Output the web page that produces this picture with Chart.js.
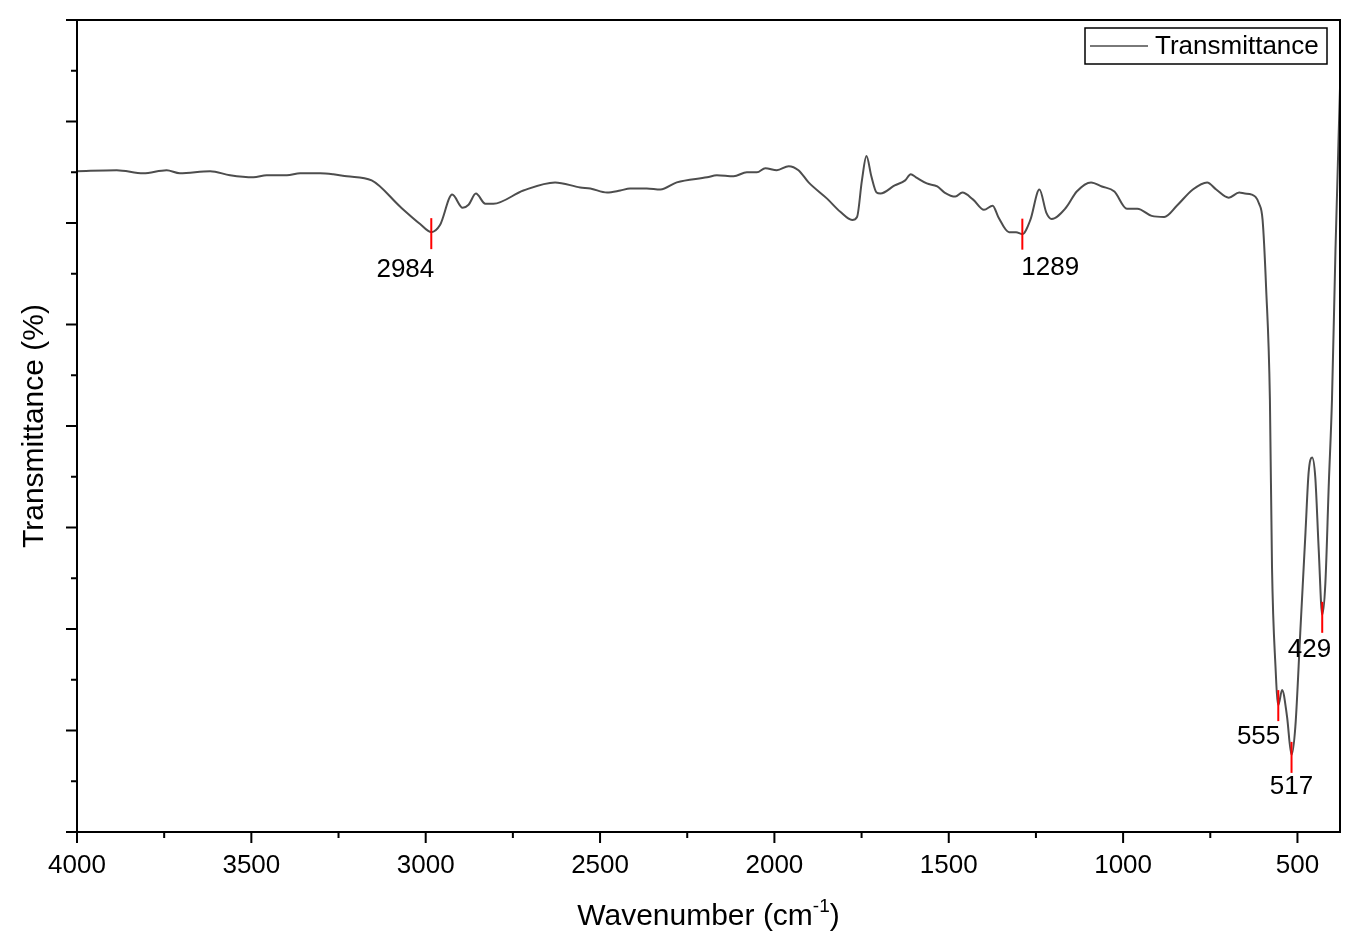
<!DOCTYPE html>
<html lang="en">
<head>
<meta charset="UTF-8">
<title>FTIR Transmittance</title>
<script src="https://cdn.jsdelivr.net/npm/chart.js"></script>
<style>
  body { margin: 0; background: #fff; }
  #wrap { width: 1360px; height: 950px; }
</style>
</head>
<body>
<div id="wrap"><canvas id="myChart"></canvas></div>
<script>
// spectrum (wavenumber in cm-1, transmittance in arbitrary %)
const wavenumbers = [4000, 3886, 3810, 3743, 3705, 3618, 3561, 3494, 3456, 3398, 3360, 3303, 3265, 3226, 3155, 3073, 3016, 2984, 2959, 2924,
  2894, 2877, 2856, 2829, 2806, 2720, 2629, 2557, 2528, 2480, 2442, 2414, 2366, 2327, 2280, 2193, 2165, 2117, 2079, 2050,
  2026, 1993, 1959, 1931, 1902, 1849, 1811, 1777, 1763, 1749, 1736, 1722, 1707, 1696, 1655, 1625, 1609, 1594, 1563, 1533,
  1512, 1481, 1461, 1430, 1399, 1374, 1358, 1327, 1307, 1289, 1266, 1240, 1220, 1205, 1164, 1133, 1092, 1061, 1025, 989,
  959, 918, 882, 846, 800, 759, 733, 697, 667, 651, 631, 610, 600, 590, 579, 573, 563, 555, 544, 530,
  517, 506, 492, 477, 468, 458, 449, 439, 429, 420, 410, 401, 391, 378];
const transmittance = [85.1, 85.2, 84.9, 85.2, 84.9, 85.1, 84.7, 84.5, 84.7, 84.7, 84.9, 84.9, 84.8, 84.6, 84.2, 81.6, 79.9, 79.1, 79.8, 82.8,
  81.5, 81.8, 82.9, 81.9, 81.9, 83.2, 84.0, 83.5, 83.4, 83.0, 83.2, 83.4, 83.4, 83.3, 84.0, 84.5, 84.7, 84.6, 85.0, 85.0,
  85.4, 85.2, 85.6, 85.2, 84.0, 82.4, 81.1, 80.3, 80.6, 84.2, 86.6, 84.6, 83.0, 82.9, 83.7, 84.2, 84.8, 84.5, 83.9, 83.6,
  83.0, 82.6, 83.0, 82.3, 81.3, 81.7, 80.6, 79.1, 79.1, 78.9, 80.3, 83.3, 81.0, 80.4, 81.5, 83.1, 84.0, 83.6, 83.1, 81.4,
  81.4, 80.7, 80.6, 81.7, 83.3, 84.0, 83.3, 82.5, 83.0, 82.9, 82.8, 81.9, 80.3, 73.7, 62.6, 46.1, 36.3, 32.5, 34.0, 31.4,
  27.6, 30.4, 39.6, 49.5, 55.4, 56.9, 55.0, 47.8, 41.4, 44.5, 54.4, 62.6, 77.3, 93.3];

const peakWavenumbers = [2984, 1289, 555, 517, 429];
const peakValues = [79.0, 78.95, 32.5, 27.4, 41.2];

const xTickValues = [4000, 3500, 3000, 2500, 2000, 1500, 1000, 500];
const yTickValues = [20, 30, 40, 50, 60, 70, 80, 90, 100];

const FONT = '"Liberation Sans", Arial, sans-serif';

// box frame with outward major + minor ticks
const frame = {
  id: 'frame',
  afterDatasetsDraw(chart) {
    const { ctx, chartArea: a, scales: { x, y } } = chart;
    ctx.save();
    ctx.strokeStyle = '#000';
    ctx.lineWidth = 2;
    ctx.strokeRect(a.left, a.top, a.right - a.left, a.bottom - a.top);
    ctx.beginPath();
    xTickValues.forEach((v, i) => {
      const px = x.getPixelForValue(v);
      ctx.moveTo(px, a.bottom); ctx.lineTo(px, a.bottom + 11);
      if (i < xTickValues.length - 1) {
        const m = x.getPixelForValue((v + xTickValues[i + 1]) / 2);
        ctx.moveTo(m, a.bottom); ctx.lineTo(m, a.bottom + 6);
      }
    });
    yTickValues.forEach((v, i) => {
      const py = y.getPixelForValue(v);
      ctx.moveTo(a.left, py); ctx.lineTo(a.left - 11, py);
      if (i < yTickValues.length - 1) {
        const m = y.getPixelForValue((v + yTickValues[i + 1]) / 2);
        ctx.moveTo(a.left, m); ctx.lineTo(a.left - 6, m);
      }
    });
    ctx.stroke();
    ctx.restore();
  }
};

// red peak markers with their wavenumber labels
const peaks = {
  id: 'peaks',
  afterDatasetsDraw(chart, args, opts) {
    const { ctx, scales: { x, y } } = chart;
    ctx.save();
    ctx.font = '26px ' + FONT;
    ctx.textBaseline = 'middle';
    peakWavenumbers.forEach((w, i) => {
      const px = x.getPixelForValue(w);
      const py = y.getPixelForValue(peakValues[i]);
      ctx.strokeStyle = '#ff0000';
      ctx.lineWidth = 2;
      ctx.beginPath();
      ctx.moveTo(px, py - 15);
      ctx.lineTo(px, py + 16);
      ctx.stroke();
      const lab = opts.labels[i];
      ctx.fillStyle = '#000';
      ctx.textAlign = lab.align;
      ctx.fillText(String(w), px + lab.dx, py + lab.dy);
    });
    ctx.restore();
  }
};

// boxed legend in the top-right corner and axis titles
const decor = {
  id: 'decor',
  afterDraw(chart) {
    const { ctx, chartArea: a } = chart;
    ctx.save();
    // legend
    const bx = a.right - 255, by = a.top + 8, bw = 242, bh = 36;
    ctx.strokeStyle = '#000';
    ctx.lineWidth = 1.5;
    ctx.strokeRect(bx, by, bw, bh);
    ctx.strokeStyle = '#4d4d4d';
    ctx.lineWidth = 1.5;
    ctx.beginPath();
    ctx.moveTo(bx + 5, by + bh / 2);
    ctx.lineTo(bx + 63, by + bh / 2);
    ctx.stroke();
    ctx.fillStyle = '#000';
    ctx.font = '26px ' + FONT;
    ctx.textAlign = 'left';
    ctx.textBaseline = 'middle';
    ctx.fillText(chart.data.datasets[0].label, bx + 70, by + bh / 2 + 1);

    // x title with superscript
    ctx.font = '30px ' + FONT;
    const t1 = 'Wavenumber (cm', t2 = '-1', t3 = ')';
    const w1 = ctx.measureText(t1).width, w3 = ctx.measureText(t3).width;
    ctx.font = '19px ' + FONT;
    const w2 = ctx.measureText(t2).width;
    const cx = (a.left + a.right) / 2;
    const sx = cx - (w1 + w2 + w3) / 2;
    const base = 925;
    ctx.textBaseline = 'alphabetic';
    ctx.font = '30px ' + FONT;
    ctx.fillText(t1, sx, base);
    ctx.font = '19px ' + FONT;
    ctx.fillText(t2, sx + w1, base - 13);
    ctx.font = '30px ' + FONT;
    ctx.fillText(t3, sx + w1 + w2, base);

    // y title
    ctx.translate(35, (a.top + a.bottom) / 2);
    ctx.rotate(-Math.PI / 2);
    ctx.textAlign = 'center';
    ctx.textBaseline = 'middle';
    ctx.fillText('Transmittance (%)', 0, 0);
    ctx.restore();
  }
};

const data = {
  datasets: [{
    label: 'Transmittance',
    data: wavenumbers.map((w, i) => ({ x: w, y: transmittance[i] })),
    borderColor: '#4d4d4d',
    borderWidth: 2,
    pointRadius: 0,
    cubicInterpolationMode: 'monotone',
    fill: false
  }]
};

const config = {
  type: 'line',
  data: data,
  options: {
    responsive: true,
    maintainAspectRatio: false,
    animation: false,
    layout: { padding: { top: 20, right: 20, left: 0, bottom: 0 } },
    plugins: {
      legend: { display: false },
      tooltip: { enabled: false },
      peaks: {
        labels: [
          { align: 'right', dx: 3, dy: 37 },
          { align: 'left', dx: -1, dy: 34 },
          { align: 'right', dx: 2, dy: 32 },
          { align: 'center', dx: 0, dy: 30 },
          { align: 'right', dx: 9, dy: 33 }
        ]
      }
    },
    scales: {
      x: {
        type: 'linear',
        reverse: true,
        min: 378,
        max: 4000,
        afterBuildTicks: s => { s.ticks = xTickValues.map(v => ({ value: v })); },
        afterFit: s => { s.height = 118; },
        grid: { display: false },
        border: { display: false },
        ticks: {
          autoSkip: false,
          maxRotation: 0,
          padding: 10,
          color: '#000',
          font: { family: FONT, size: 26 },
          callback: v => String(v)
        }
      },
      y: {
        min: 20,
        max: 100,
        afterBuildTicks: s => { s.ticks = yTickValues.map(v => ({ value: v })); },
        afterFit: s => { s.width = 77; },
        grid: { display: false },
        border: { display: false },
        ticks: { display: false }
      }
    }
  },
  plugins: [frame, peaks, decor]
};

var myChart = new Chart(document.getElementById('myChart'), config);
</script>
</body>
</html>
